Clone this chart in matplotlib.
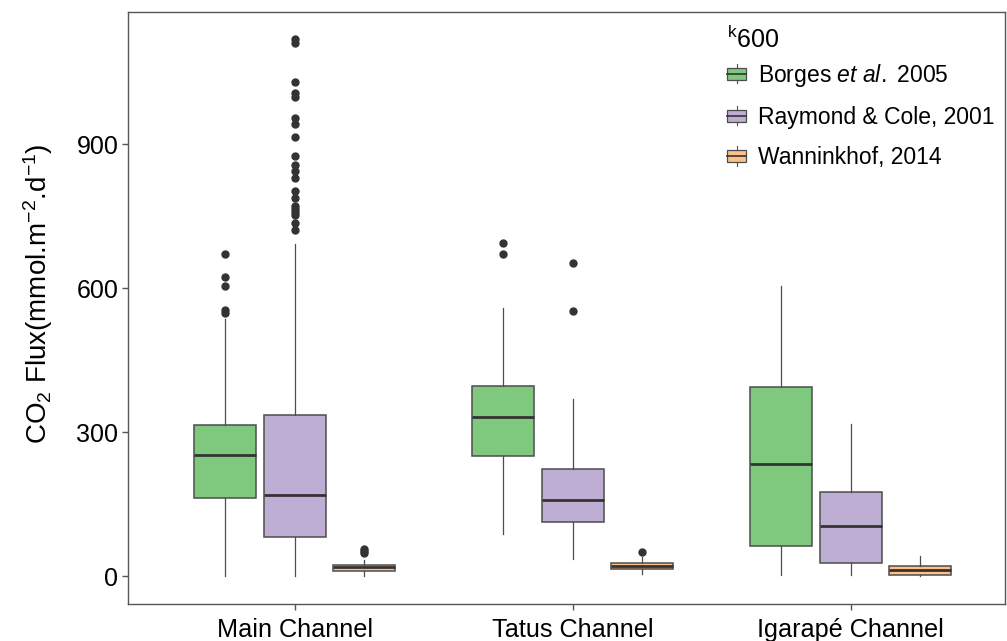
import matplotlib
matplotlib.use("Agg")
import matplotlib.pyplot as plt
from matplotlib.legend_handler import HandlerBase
from matplotlib.patches import Rectangle
from matplotlib.lines import Line2D

plt.rcParams['font.family'] = ['Liberation Sans', 'DejaVu Sans']
plt.rcParams['mathtext.fontset'] = 'custom'
plt.rcParams['mathtext.rm'] = 'Liberation Sans'
plt.rcParams['mathtext.it'] = 'Liberation Sans:italic'

# ---- data ----
channels = ["Main Channel", "Tatus Channel", "Igarapé Channel"]
methods = ["Borges et al. 2005", "Raymond & Cole, 2001", "Wanninkhof, 2014"]
colors = ["#7FC97F", "#BEAED4", "#FDC086"]

# rows: method, columns: channel
whislo = [[0, 88, 2], [0, 35, 2], [0, 4, 0]]
q1 = [[162, 251, 62], [81, 112, 28], [10, 14, 3]]
med = [[252, 331, 234], [169, 158, 104], [19, 21, 12]]
q3 = [[315, 396, 394], [335, 224, 176], [24, 28, 21]]
whishi = [[535, 558, 604], [692, 369, 317], [33, 39, 42]]

outliers_borges = [[671, 623, 604, 554, 548], [693, 670], []]
outliers_raymond = [[1118, 1110, 1030, 1006, 999, 955, 941, 914, 875, 857, 843,
                     829, 802, 787, 770, 764, 758, 752, 736, 720], [652, 553], []]
outliers_wann = [[57, 52, 48], [51], []]
outliers = [outliers_borges, outliers_raymond, outliers_wann]

yticks = [0, 300, 600, 900]

# ---- figure ----
fig = plt.figure(figsize=(10.07, 6.41), dpi=100)
ax = fig.add_axes([128/1007, (641-604)/641, (1005-128)/1007, (604-12)/641])

offsets = [-0.25, 0.0, 0.25]
box_w = 0.223
for m in range(3):
    stats = []
    pos = []
    for c in range(3):
        stats.append(dict(whislo=whislo[m][c], q1=q1[m][c], med=med[m][c],
                          q3=q3[m][c], whishi=whishi[m][c], fliers=outliers[m][c]))
        pos.append(c + offsets[m])
    ax.bxp(stats, positions=pos, widths=box_w, patch_artist=True,
           showcaps=False, manage_ticks=False,
           boxprops=dict(facecolor=colors[m], edgecolor="#4d4d4d", linewidth=1.1),
           medianprops=dict(color="#333333", linewidth=2.0),
           whiskerprops=dict(color="#4d4d4d", linewidth=0.9),
           flierprops=dict(marker='o', markerfacecolor="#333333",
                           markeredgecolor="#333333", markersize=5))

ax.set_xlim(-0.6, 2.555)
ax.set_ylim(-58, 1175)
ax.set_xticks(range(3))
ax.set_xticklabels(channels, fontsize=18.2)
ax.set_yticks(yticks)
ax.set_yticklabels([str(v) for v in yticks], fontsize=18)
ax.tick_params(axis='both', color="#555555", length=4, width=1.0, pad=3)
ax.tick_params(axis='x', pad=6)
for s in ax.spines.values():
    s.set_color("#555555")
    s.set_linewidth(1.0)

ax.set_ylabel(r"CO$\mathregular{_2}$ Flux(mmol.m$\mathregular{^{-2}}$.d$\mathregular{^{-1}}$)",
              fontsize=20)
ax.yaxis.set_label_coords(-0.083, (604 - 294) / 592)


class BoxHandler(HandlerBase):
    def create_artists(self, legend, orig_handle, xdescent, ydescent, width,
                       height, fontsize, trans):
        fc = orig_handle.get_facecolor()
        bw = width
        x0 = -xdescent
        bh = height * 0.6
        y0 = -ydescent + (height - bh) / 2
        rect = Rectangle((x0, y0), bw, bh, facecolor=fc, edgecolor="#4d4d4d",
                         linewidth=0.9, transform=trans)
        cx = x0 + bw / 2
        mid = Line2D([x0, x0 + bw], [y0 + bh / 2, y0 + bh / 2], color="#333333",
                     linewidth=1.2, transform=trans)
        up = Line2D([cx, cx], [y0 + bh, y0 + bh + height * 0.17], color="#4d4d4d",
                    linewidth=0.8, transform=trans)
        dn = Line2D([cx, cx], [y0, y0 - height * 0.17], color="#4d4d4d",
                    linewidth=0.8, transform=trans)
        return [rect, mid, up, dn]


handles = [Rectangle((0, 0), 1, 1, facecolor=colors[i]) for i in range(3)]
labels = [r"Borges $\mathit{et\ al.}$ 2005", methods[1], methods[2]]
leg = ax.legend(handles, labels, handler_map={Rectangle: BoxHandler()},
                loc='upper left', bbox_to_anchor=(0.660, 0.951), frameon=False,
                fontsize=16.5, labelspacing=0.74, handlelength=0.82,
                handleheight=1.0, handletextpad=0.5, alignment='left')

# legend title (k600), placed above the entries
fig.text(727 / 1007, (641 - 48) / 641, r"$\mathregular{^{k}}$600", fontsize=18,
         ha='left', va='baseline')

fig.savefig("out.png", dpi=100)
